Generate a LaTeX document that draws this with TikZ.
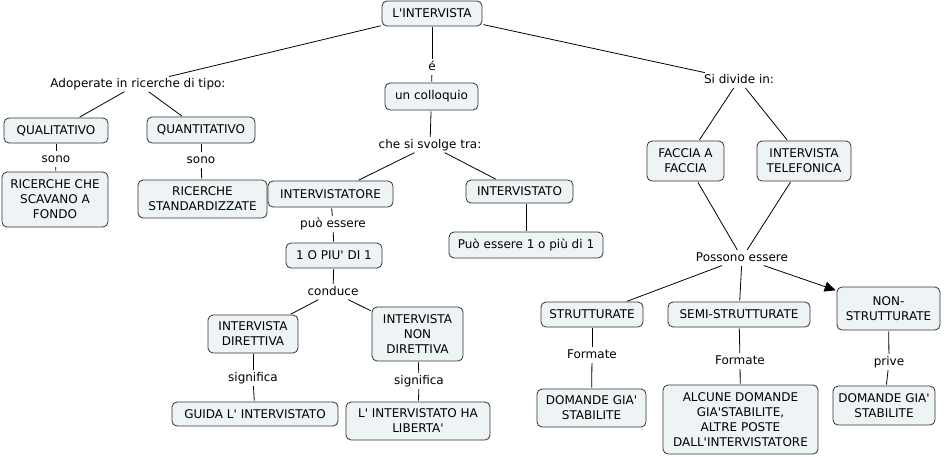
\documentclass[tikz,border=0pt]{standalone}
\usepackage{fontspec}
\setmainfont{DejaVu Sans}[Ligatures=TeXOff]
\usetikzlibrary{arrows.meta}
\definecolor{boxfill}{HTML}{EEF3F5}
\definecolor{boxline}{HTML}{333333}
\begin{document}
\begin{tikzpicture}[x=1pt,y=-1pt,
  every node/.style={font=\fontsize{12}{15}\selectfont},
  cbox/.style={draw=boxline, fill=boxfill, rounded corners=5pt, line width=0.8pt, inner sep=0pt, align=center},
  lbl/.style={inner sep=1.5pt, text height=8.5pt, text depth=2.5pt},
  conn/.style={draw=black, line width=0.8pt, shorten >=1pt, shorten <=1pt},
  arr/.style={conn, -{Triangle[length=11pt,width=10pt]}}]
\useasboundingbox[fill=white] (0,0) rectangle (945,456);
% boxes
\node[cbox, minimum width=100pt, minimum height=25pt] (top) at (432,13.5) {L'INTERVISTA};
\node[cbox, minimum width=93pt, minimum height=27pt] (coll) at (431.5,96.5) {un colloquio};
\node[cbox, minimum width=104pt, minimum height=25pt] (qual) at (56,130.5) {QUALITATIVO};
\node[cbox, minimum width=108pt, minimum height=26pt] (quant) at (201,130) {QUANTITATIVO};
\node[cbox, minimum width=106pt, minimum height=55pt] (scav) at (55,199.5) {RICERCHE CHE\\SCAVANO A\\FONDO};
\node[cbox, minimum width=129pt, minimum height=38pt] (std) at (202.5,199) {RICERCHE\\STANDARDIZZATE};
\node[cbox, minimum width=125pt, minimum height=26pt] (tore) at (330.5,194) {INTERVISTATORE};
\node[cbox, minimum width=107pt, minimum height=23pt] (tato) at (519.5,191.5) {INTERVISTATO};
\node[cbox, minimum width=154pt, minimum height=26pt] (pbox) at (526,245) {Può essere 1 o più di 1};
\node[cbox, minimum width=96pt, minimum height=25pt] (piu) at (334,255.5) {1 O PIU' DI 1};
\node[cbox, minimum width=90pt, minimum height=38pt] (dir) at (253,334) {INTERVISTA\\DIRETTIVA};
\node[cbox, minimum width=91pt, minimum height=54pt] (nondir) at (417.5,334) {INTERVISTA\\NON\\DIRETTIVA};
\node[cbox, minimum width=166pt, minimum height=24pt] (guida) at (255,414) {GUIDA L' INTERVISTATO};
\node[cbox, minimum width=144pt, minimum height=38pt] (lib) at (418,421) {L' INTERVISTATO HA\\LIBERTA'};
\node[cbox, minimum width=77pt, minimum height=40pt] (faccia) at (685.5,161) {FACCIA A\\FACCIA};
\node[cbox, minimum width=94pt, minimum height=40pt] (tel) at (804,161) {INTERVISTA\\TELEFONICA};
\node[cbox, minimum width=102pt, minimum height=25pt] (strutt) at (592,314.5) {STRUTTURATE};
\node[cbox, minimum width=142pt, minimum height=25pt] (semi) at (739,314.5) {SEMI-STRUTTURATE};
\node[cbox, minimum width=103pt, minimum height=43pt] (non) at (888.5,308.5) {NON-\\STRUTTURATE};
\node[cbox, minimum width=109pt, minimum height=38pt] (dom1) at (591.5,408) {DOMANDE GIA'\\STABILITE};
\node[cbox, minimum width=155pt, minimum height=69pt] (alc) at (740.5,419.5) {ALCUNE DOMANDE\\GIA'STABILITE,\\ALTRE POSTE\\DALL'INTERVISTATORE};
\node[cbox, minimum width=102pt, minimum height=39pt] (dom2) at (884,405.5) {DOMANDE GIA'\\STABILITE};
% linking labels
\node[lbl] (adop) at (138,84) {Adoperate in ricerche di tipo:};
\node[lbl] (e) at (432,67) {é};
\node[lbl] (che) at (430,145) {che si svolge tra:};
\node[lbl] (si) at (739,80) {Si divide in:};
\node[lbl] (sono1) at (56,159) {sono};
\node[lbl] (sono2) at (201,160) {sono};
\node[lbl] (puo) at (333,224) {può essere};
\node[lbl] (conduce) at (333,292) {conduce};
\node[lbl] (sig1) at (253,378) {significa};
\node[lbl] (sig2) at (419,381) {significa};
\node[lbl] (poss) at (742,258) {Possono essere};
\node[lbl] (form1) at (592,355) {Formate};
\node[lbl] (form2) at (740,361) {Formate};
\node[lbl] (prive) at (889,362) {prive};
% connectors
\draw[conn] (top) -- (adop);
\draw[conn] (top) -- (e);
\draw[conn] (e) -- (coll);
\draw[conn] (coll) -- (che);
\draw[conn] (che) -- (tore);
\draw[conn] (che) -- (tato);
\draw[conn] (top) -- (si);
\draw[conn] (si) -- (faccia);
\draw[conn] (si) -- (tel);
\draw[conn] (faccia) -- (poss);
\draw[conn] (tel) -- (poss);
\draw[conn] (poss) -- (strutt);
\draw[conn] (poss) -- (semi);
\draw[arr] (poss) -- (non);
\draw[conn] (adop) -- (qual);
\draw[conn] (adop) -- (quant);
\draw[conn] (qual) -- (sono1);
\draw[conn] (sono1) -- (scav);
\draw[conn] (quant) -- (sono2);
\draw[conn] (sono2) -- (std);
\draw[conn] (tore) -- (puo);
\draw[conn] (puo) -- (piu);
\draw[conn] (piu) -- (conduce);
\draw[conn] (conduce) -- (dir);
\draw[conn] (conduce) -- (nondir);
\draw[conn] (dir) -- (sig1);
\draw[conn] (sig1) -- (guida);
\draw[conn] (nondir) -- (sig2);
\draw[conn] (sig2) -- (lib);
\draw[conn] (pbox.north) -- (pbox.north |- tato.south);
\draw[conn] (strutt) -- (form1);
\draw[conn] (form1) -- (dom1);
\draw[conn] (semi) -- (form2);
\draw[conn] (form2) -- (alc);
\draw[conn] (non) -- (prive);
\draw[conn] (prive) -- (dom2);
\end{tikzpicture}
\end{document}
